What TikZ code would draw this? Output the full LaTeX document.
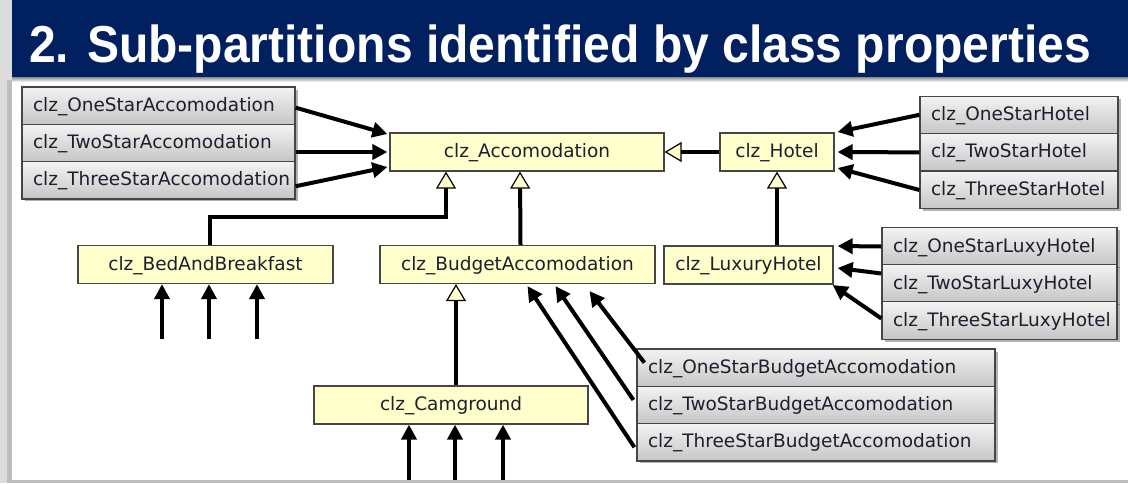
\documentclass[tikz,border=0pt]{standalone}
\usepackage{fontspec}
\setmainfont{DejaVu Sans}
\newfontfamily\titlefont{Liberation Sans}
\usepackage{tikz}
\usetikzlibrary{arrows.meta,calc,positioning,shadows}
\definecolor{titlenavy}{RGB}{0,32,96}
\definecolor{classyellow}{RGB}{255,255,204}
\definecolor{boxgrey}{RGB}{70,70,70}
\definecolor{stacktop}{RGB}{243,243,243}
\definecolor{stackbottom}{RGB}{198,198,198}
\definecolor{stripgrey}{RGB}{220,220,220}
\definecolor{stripdark}{RGB}{190,190,190}
\definecolor{labeltext}{RGB}{30,30,45}
\tikzset{
  classbox/.style={draw=boxgrey,line width=1.2pt,fill=classyellow,
    minimum height=38pt,inner sep=0pt,text=labeltext,
    text height=14pt,text depth=3pt,
    font=\fontsize{18.5}{22}\selectfont},
  subrow/.style={draw=boxgrey,line width=1.2pt,top color=stacktop,
    bottom color=stackbottom,minimum height=37.3pt,inner xsep=11pt,
    inner ysep=0pt,align=left,text=labeltext,
    text height=14pt,text depth=3pt,
    font=\fontsize{18.5}{22}\selectfont},
  stackshadow/.style={drop shadow={shadow xshift=2.5pt,shadow yshift=-2.5pt,
    fill=black,opacity=0.3}},
  assoc/.style={-{Triangle[length=15pt,width=15pt]},line width=4pt},
  gen/.style={-{Triangle[open,length=17pt,width=20pt,fill=classyellow,
    line width=1.2pt]},line width=4pt}
}

\begin{document}
\begin{tikzpicture}[x=1pt,y=-1pt]
  \useasboundingbox (0,0) rectangle (1128,483);
  \fill[stripgrey] (0,0) rectangle (12,483);
  \fill[stripdark] (7,80) rectangle (12,483);
  \fill[titlenavy] (12,0) rectangle (1128,77);
  \shade[top color=black!45,bottom color=white] (12,77) rectangle (1128,82);
  \node[anchor=base west,text=white,inner sep=0pt] (title) at (29,62)
    {\titlefont\bfseries\fontsize{52}{60}\selectfont
     \scalebox{0.924}[1]{2. Sub-partitions identified by class properties}};

  \node[classbox,minimum width=274pt] (acc) at (527,152) {clz\_Accomodation};
  \node[classbox,minimum width=114pt] (hotel) at (777,152) {clz\_Hotel};
  \node[classbox,minimum width=255pt] (bnb) at (205.5,264.5) {clz\_BedAndBreakfast};
  \node[classbox,minimum width=275pt] (budget) at (517.5,264.5) {clz\_BudgetAccomodation};
  \node[classbox,minimum width=169pt] (luxury) at (748.5,265) {clz\_LuxuryHotel};
  \node[classbox,minimum width=274pt] (camp) at (451,405) {clz\_Camground};

  \foreach \n [count=\i] in {One,Two,Three} {
    \node[subrow,stackshadow,text width=251pt] (accsub\i)
      at (158.5,{87+37.3*(\i-0.5)}) {clz\_\n StarAccomodation};
    \node[subrow,stackshadow,text width=176pt] (hotsub\i)
      at (1019,{96+37.6*(\i-0.5)}) {clz\_\n StarHotel};
    \node[subrow,stackshadow,text width=213pt] (luxsub\i)
      at (999.5,{228+37*(\i-0.5)}) {clz\_\n StarLuxyHotel};
    \node[subrow,stackshadow,text width=336pt] (budsub\i)
      at (816,{349+37.3*(\i-0.5)}) {clz\_\n StarBudgetAccomodation};
  }

  \draw[assoc] ($(accsub1.east)+(0,2)$) -- ($(acc.west)+(-2,-18)$);
  \draw[assoc] (accsub2.east |- acc.west) -- ($(acc.west)+(-2,0)$);
  \draw[assoc] ($(accsub3.east)+(0,6)$) -- ($(acc.west)+(-2,15)$);

  \draw[assoc] (hotsub1.west) -- ($(hotel.east)+(3,-20)$);
  \draw[assoc] (hotsub2.west) -- ($(hotel.east)+(3,0)$);
  \draw[assoc] (hotsub3.west) -- ($(hotel.east)+(3,16)$);

  \draw[assoc] (luxsub1.west) -- ($(luxury.east)+(4,-19)$);
  \draw[assoc] ($(luxsub2.west)+(0,-10)$) -- ($(luxury.east)+(4,3)$);
  \draw[assoc] ($(luxsub3.west)+(0,-2)$) -- ($(luxury.east)+(-1,20)$);

  \draw[assoc] ($(budsub1.west)+(8,-5)$) -- ($(budget.south)+(72,7)$);
  \draw[assoc] ($(budsub2.west)+(-3,-5)$) -- ($(budget.south)+(38,2)$);
  \draw[assoc] ($(budsub3.west)+(-2,5)$) -- ($(budget.south)+(10,2)$);

  \draw[gen] (hotel) -- (acc);
  \draw[gen] ($(bnb.north)+(4.5,0)$) |- ($(acc.south)+(-81,45)$)
    -- ($(acc.south)+(-81,0)$);
  \draw[gen] ($(budget.north)+(3,0)$) -- ($(acc.south)+(-7,0)$);
  \draw[gen] ($(camp.north)+(5,0)$) -- ($(budget.south)+(-61.5,0)$);
  \draw[gen] (luxury.north -| hotel.south) -- (hotel.south);

  \foreach \dx [count=\i] in {-43.5,3.5,51.5} {
    \coordinate (bnbfoot\i) at ($(bnb.south)+(\dx,55)$);
    \draw[assoc] (bnbfoot\i) -- (bnbfoot\i |- bnb.south);
  }
  \foreach \dx [count=\i] in {-42,4,52} {
    \coordinate (campfoot\i) at ($(camp.south)+(\dx,57)$);
    \draw[assoc] (campfoot\i) -- (campfoot\i |- camp.south);
  }
  \fill[stripdark] (12,480) rectangle (1128,483);
\end{tikzpicture}
\end{document}
